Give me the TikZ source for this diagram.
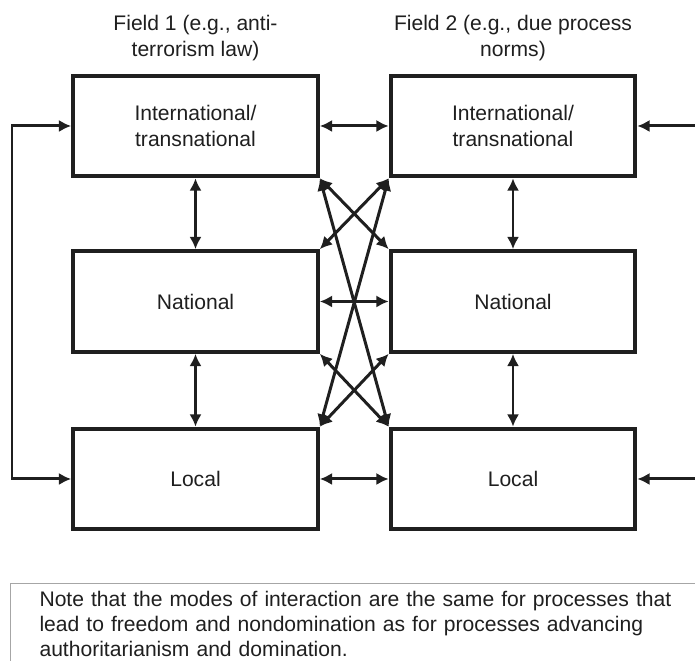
\documentclass[tikz,border=0pt]{standalone}
\usepackage{fontspec}
\setmainfont{Liberation Sans}
\usepackage{tikz}
\usetikzlibrary{positioning}
\usetikzlibrary{arrows.meta}
\colorlet{inkcol}{black!88}
\colorlet{notecol}{black!35}
\tikzset{>={Latex[length=7pt,width=7pt]}}
\tikzset{
  levelbox/.style={draw=inkcol, line width=2.4pt, minimum width=4.89cm,
    minimum height=2.01cm, align=center, text=inkcol, inner sep=0pt},
  link/.style={draw=inkcol, line width=1.7pt},
  fieldtitle/.style={align=center, text=inkcol, inner sep=0pt},
  notebox/.style={draw=notecol, line width=0.6pt, anchor=north west,
    align=left, text=inkcol, text width=12.84cm, minimum width=14cm,
    inner xsep=0.58cm, inner ysep=0.16cm, font=\fontsize{12}{14}\selectfont}
}

\begin{document}
\begin{tikzpicture}[font=\fontsize{12}{15.2}\selectfont]
\useasboundingbox (0,0) rectangle (13.9,13.22);

% ---------- Field 1 ----------
\node[fieldtitle] (title1) at (3.91,12.46) {Field 1 (e.g., anti-\\terrorism law)};
\node[levelbox] (int1) at (3.91,10.70) {International/\\transnational};
\node[levelbox] (nat1) at (3.91,7.19) {National};
\node[levelbox] (loc1) at (3.91,3.64) {Local};

% ---------- Field 2 ----------
\node[fieldtitle] (title2) at (10.26,12.46) {Field 2 (e.g., due process\\norms)};
\node[levelbox] (int2) at (10.26,10.70) {International/\\transnational};
\node[levelbox] (nat2) at (10.26,7.19) {National};
\node[levelbox] (loc2) at (10.26,3.64) {Local};

% ---------- Within each field ----------
\draw[link,<->] (int1) -- (nat1);
\draw[link,<->] (nat1) -- (loc1);
\draw[link,<->] (int2) -- (nat2);
\draw[link,<->] (nat2) -- (loc2);

% ---------- Between the fields ----------
\draw[link,<->] (int1) -- (int2);
\draw[link,<->] (nat1) -- (nat2);
\draw[link,<->] (loc1) -- (loc2);

% crossing links
\draw[link,<->] (int1.south east) -- (nat2.north west);
\draw[link,<->] (int1.south east) -- (loc2.north west);
\draw[link,<->] (int2.south west) -- (nat1.north east);
\draw[link,<->] (int2.south west) -- (loc1.north east);
\draw[link,<->] (nat1.south east) -- (loc2.north west);
\draw[link,<->] (nat2.south west) -- (loc1.north east);

% ---------- From outside ----------
\coordinate (outL) at (0.24,7.19);
\coordinate (outR1) at (13.95,10.70);
\coordinate (outR3) at (13.95,3.64);
\draw[link,<->] (int1.west) -| (outL) |- (loc1.west);
\draw[link,->] (outR1) -- (int2.east);
\draw[link,->] (outR3) -- (loc2.east);

% ---------- Note ----------
\node[notebox] (note) at (0.2,1.56) {Note that the modes of interaction are the same for processes that\\
  lead to freedom and nondomination as for processes advancing\\
  authoritarianism and domination.};

\end{tikzpicture}
\end{document}
